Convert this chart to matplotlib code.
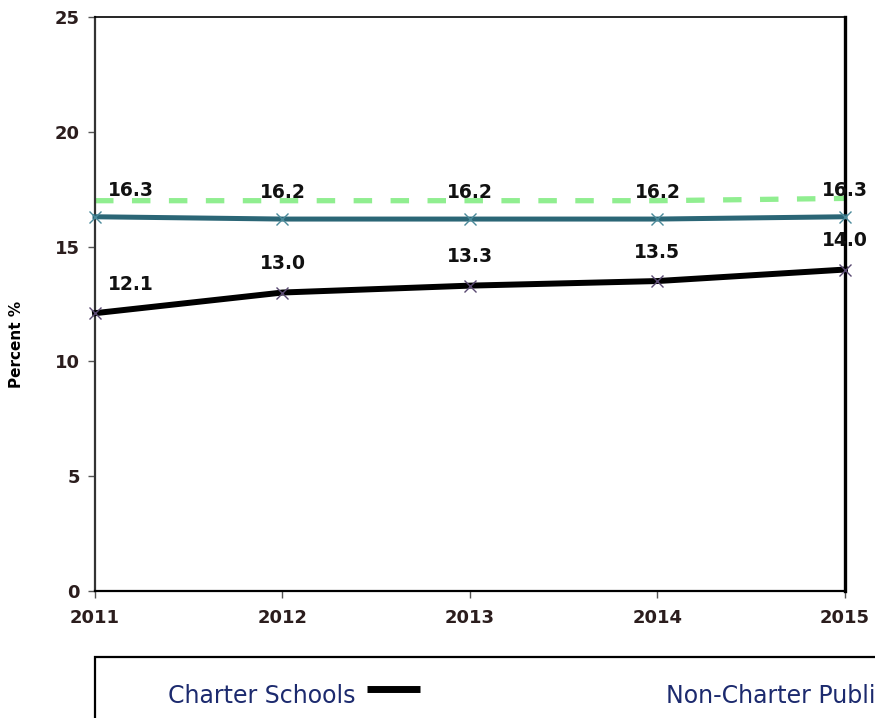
import matplotlib.pyplot as plt
from matplotlib.lines import Line2D
from matplotlib.patches import Rectangle

years = [2011, 2012, 2013, 2014, 2015]
charter = [12.1, 13.0, 13.3, 13.5, 14.0]
non_charter = [16.3, 16.2, 16.2, 16.2, 16.3]
state_line = [17.0, 17.0, 17.0, 17.0, 17.1]
series_names = ['Charter Schools', 'Non-Charter Public Schools']
y_ticks = [0, 5, 10, 15, 20, 25]

tick_color = '#2b1d1d'
legend_color = '#1c2a6e'

fig = plt.figure(figsize=(8.75, 7.18), dpi=100)
ax = fig.add_axes([0.1086, 0.1769, 0.857, 0.7994])

# lines
ax.plot(years, state_line, color='#90ee90', lw=3.8, ls=(0, (3.5, 3.5)), zorder=2)
ax.plot(years, non_charter, color='#2b6676', lw=3.6, marker='x', ms=8,
        mec='#4a8a9a', mew=1.0, zorder=3, clip_on=False)
ax.plot(years, charter, color='black', lw=4.3, marker='x', ms=8,
        mec='#5a4a72', mew=1.0, zorder=3, clip_on=False)

# data labels
for i, (x, v) in enumerate(zip(years, non_charter)):
    dx = 26 if i == 0 else 0
    ax.annotate(f'{v:.1f}', (x, v), textcoords='offset points', xytext=(dx, 12),
                ha='center', va='bottom', fontsize=13.5, fontweight='bold',
                color='#111111', zorder=5, annotation_clip=False)
for i, (x, v) in enumerate(zip(years, charter)):
    dx = 26 if i == 0 else 0
    ax.annotate(f'{v:.1f}', (x, v), textcoords='offset points', xytext=(dx, 14),
                ha='center', va='bottom', fontsize=13.5, fontweight='bold',
                color='#111111', zorder=5, annotation_clip=False)

ax.set_xlim(2011, 2015)
ax.set_ylim(0, 25)
ax.set_xticks(years)
ax.set_yticks(y_ticks)
ax.tick_params(axis='both', labelsize=13, colors='#555555', labelcolor=tick_color,
               length=5, width=1)
ax.tick_params(axis='x', pad=8)
ax.tick_params(axis='y', pad=6)
for lab in ax.get_xticklabels() + ax.get_yticklabels():
    lab.set_fontweight('bold')

ax.spines['left'].set_color('#333333')
ax.spines['left'].set_linewidth(1.6)
ax.spines['bottom'].set_color('black')
ax.spines['bottom'].set_linewidth(1.6)
ax.spines['right'].set_color('black')
ax.spines['right'].set_linewidth(2.4)
ax.spines['top'].set_color('black')
ax.spines['top'].set_linewidth(1.2)

ax.set_ylabel('Percent %', fontsize=11, fontweight='bold', color='black')
ax.yaxis.set_label_coords(-0.095, 0.43)

# legend box (cut off at the right and bottom like the original)
fig.patches.append(Rectangle((95 / 875, -0.05), 0.95, 1 - 657 / 718 + 0.05,
                             transform=fig.transFigure, fill=False,
                             edgecolor='black', lw=1.6))
fig.text(168 / 875, 1 - 696 / 718, series_names[0], fontsize=17,
         color=legend_color, va='center', ha='left',
         family=['Liberation Sans Narrow', 'DejaVu Sans'])
fig.lines.append(Line2D([367 / 875, 420 / 875], [1 - 689 / 718] * 2,
                        transform=fig.transFigure, color='black', lw=5,
                        solid_capstyle='butt'))
fig.text(666 / 875, 1 - 696 / 718, series_names[1], fontsize=17,
         color=legend_color, va='center', ha='left',
         family=['Liberation Sans Narrow', 'DejaVu Sans'])

fig.savefig('out.png', dpi=100)
